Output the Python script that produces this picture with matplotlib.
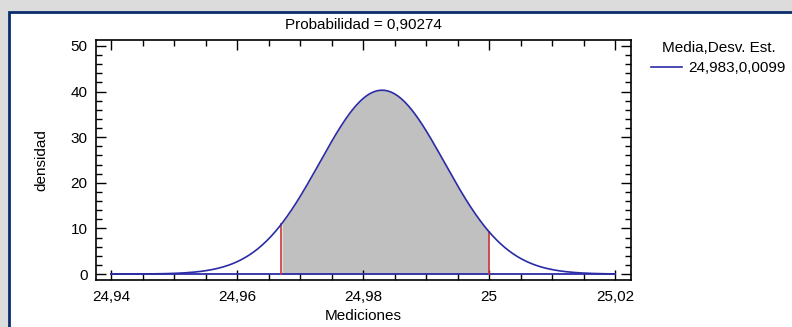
import numpy as np
import matplotlib.pyplot as plt
from matplotlib.patches import Rectangle
from matplotlib.ticker import MultipleLocator, FuncFormatter

# Data
media = 24.983
desv_est = 0.0099
lim_inf = 24.967
lim_sup = 25.0
probabilidad = '0,90274'
x_ticks = [24.94, 24.96, 24.98, 25.0, 25.02]
y_ticks = [0, 10, 20, 30, 40, 50]

plt.rcParams['font.family'] = ['Liberation Sans', 'DejaVu Sans']

azul = '#2b2ba6'
rojo = '#c8383a'

fig = plt.figure(figsize=(7.92, 3.27), dpi=100)
fig.patch.set_facecolor('#dcdcdc')

# white panel with navy frame (runs off right and bottom)
panel = Rectangle((9 / 792, -0.1), 1.2, 1 - 12 / 327 + 0.1,
                  transform=fig.transFigure, facecolor='white',
                  edgecolor='#0b2d6b', linewidth=2.0, zorder=-5)
fig.add_artist(panel)

ax = fig.add_axes([96 / 792, 1 - 280 / 327, 535 / 792, 240 / 327])
ax.set_zorder(2)

# normal density curve
xs = np.linspace(x_ticks[0], x_ticks[-1], 600)
dens = np.exp(-0.5 * ((xs - media) / desv_est) ** 2) / (desv_est * np.sqrt(2 * np.pi))

mask = (xs >= lim_inf) & (xs <= lim_sup)
ax.fill_between(xs[mask], 0, dens[mask], color='#c0c0c0', linewidth=0, zorder=1)
ax.plot([x_ticks[0], x_ticks[-1]], [0, 0], color=azul, linewidth=1.3, zorder=2)
ax.plot(xs, dens, color=azul, linewidth=1.2, zorder=3,
        label='24,983,0,0099')
for lim in (lim_inf, lim_sup):
    d = np.exp(-0.5 * ((lim - media) / desv_est) ** 2) / (desv_est * np.sqrt(2 * np.pi))
    ax.plot([lim, lim], [0, d], color=rojo, linewidth=1.2, zorder=2)

ax.set_xlim(24.9376, 25.0225)
ax.set_ylim(-1.3, 51.3)
ax.set_xticks(x_ticks)
ax.set_yticks(y_ticks)
ax.xaxis.set_minor_locator(MultipleLocator(0.005))
ax.yaxis.set_minor_locator(MultipleLocator(2))
coma = FuncFormatter(lambda v, p: ('%g' % round(v, 4)).replace('.', ','))
ax.xaxis.set_major_formatter(coma)
ax.tick_params(which='both', direction='in', top=True, right=True,
               labelsize=11, colors='black')
ax.tick_params(which='major', length=7, width=1)
ax.tick_params(which='minor', length=4, width=1)
ax.tick_params(axis='x', pad=7)
ax.tick_params(axis='y', pad=6)
for s in ax.spines.values():
    s.set_linewidth(1.2)

ax.set_title('Probabilidad = ' + probabilidad, fontsize=11, pad=8)
ax.set_xlabel('Mediciones', fontsize=11, labelpad=4)
ax.set_ylabel('densidad', fontsize=11, labelpad=16)

leg = ax.legend(title='Media,Desv. Est.', loc='upper left',
                bbox_to_anchor=(1.012, 1.054), frameon=False, fontsize=11,
                title_fontsize=11, handlelength=2.0, handletextpad=0.45,
                labelspacing=0.43)

fig.savefig('out.png', dpi=100, facecolor=fig.get_facecolor())
